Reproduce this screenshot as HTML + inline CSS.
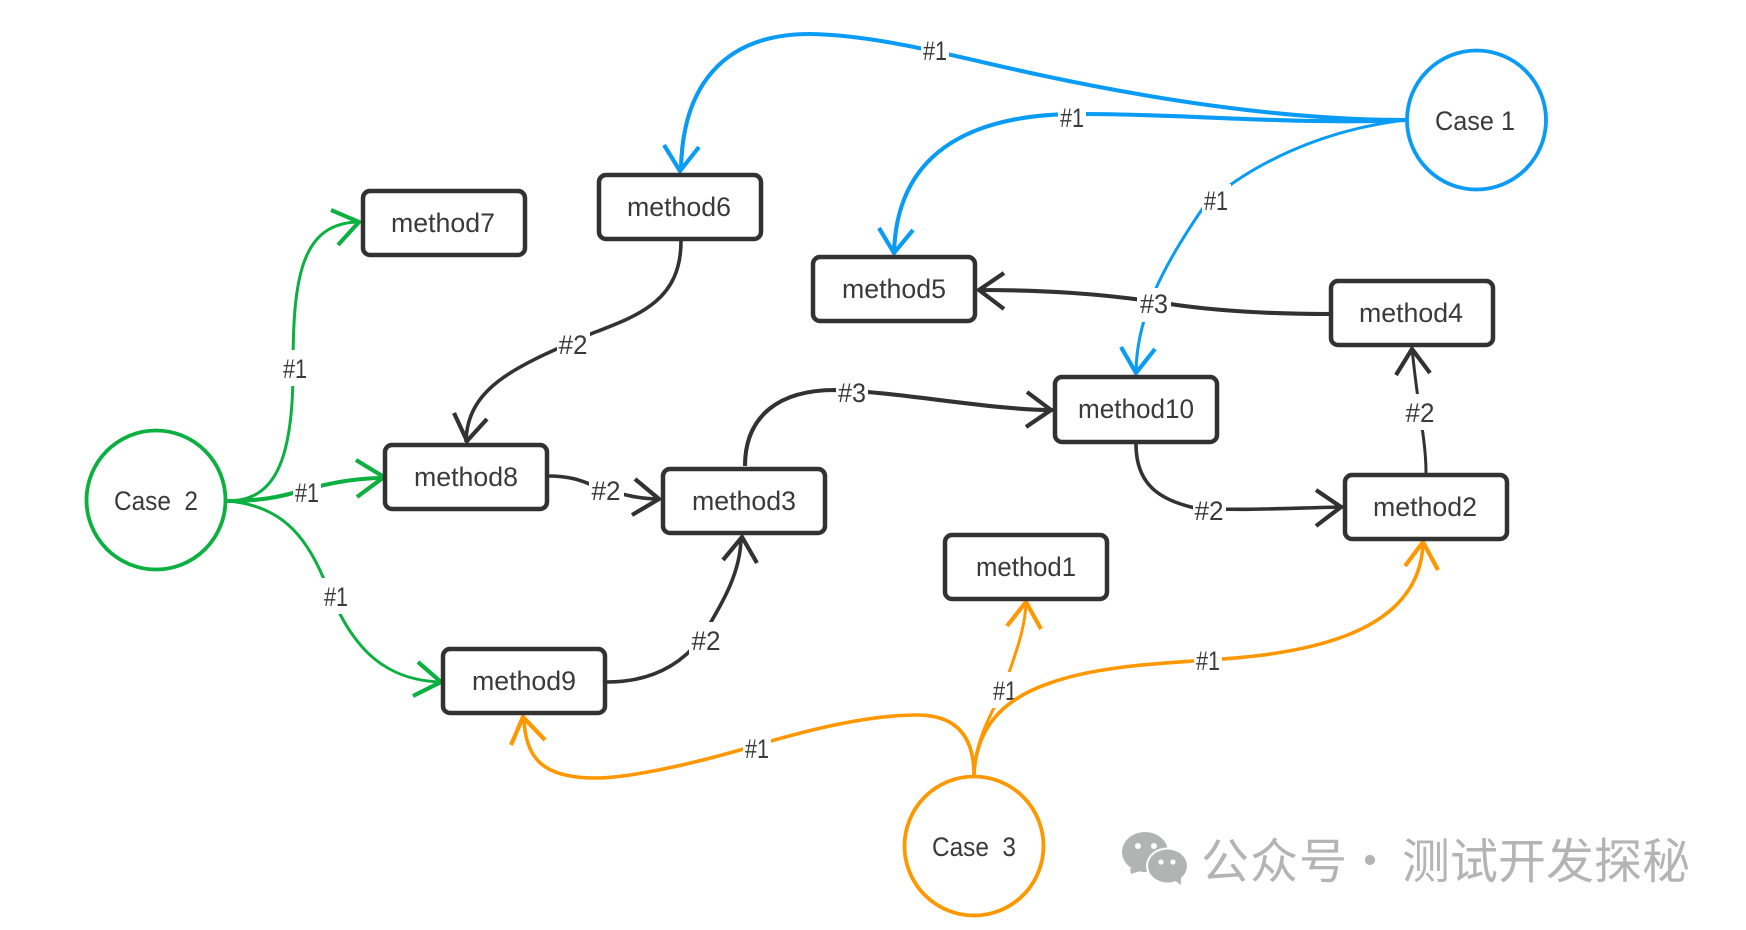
<!DOCTYPE html>
<html>
<head>
<meta charset="utf-8">
<style>
html,body{margin:0;padding:0;background:#fff;width:1746px;height:930px;overflow:hidden}
svg{display:block}
text{font-family:"Liberation Sans","Noto Sans CJK SC",sans-serif;fill:#3a3a3a;text-anchor:middle;font-size:27px}
.box{fill:#fff;stroke:#323232;stroke-width:4.5}
.c{fill:none;stroke-width:3.6;stroke-linecap:butt;stroke-linejoin:miter}
.a{stroke-width:4.2}
.t{stroke-width:3}
.h{stroke-width:4.1}
.b{stroke:#0a9bf5}.g{stroke:#0bb041}.o{stroke:#ff9800}.k{stroke:#323232}
.lb{fill:#fff}
.wm{fill:#b4b4b4;font-size:48px;text-anchor:start;font-family:"Noto Sans CJK SC","WenQuanYi Zen Hei",sans-serif}
</style>
</head>
<body>
<svg width="1746" height="930" viewBox="0 0 1746 930" xmlns="http://www.w3.org/2000/svg">
<rect width="1746" height="930" fill="#fff"/>

<!-- black connectors -->
<path class="c k" d="M681,241 C681,300 640,315 593,333 C520,365 467,385 466,442"/>
<path class="c a k" d="M454,413 L467,441 L487,419"/>
<path class="c h k" d="M745,466 C745,415 780,390 835,390 C900,392 990,410 1053,410"/>
<path class="c a k" d="M1027,392 L1051,410 L1026,427"/>
<path class="c k" d="M548,476 C580,476 590,486 606,490 C625,495 640,499 660,499"/>
<path class="c a k" d="M635,479 L659,499 L632,515"/>
<path class="c k" d="M607,682 C650,682 680,665 700,640 C725,600 741,570 741,537"/>
<path class="c a k" d="M723,560 L742,537 L757,563"/>
<path class="c h k" d="M1330,314 C1260,314 1210,310 1170,304 C1100,293 1040,290 978,290"/>
<path class="c a k" d="M1004,273 L979,290 L1004,309"/>
<path class="c t k" d="M1426,473 C1426,440 1418,410 1412,348"/>
<path class="c a k" d="M1396,375 L1412,349 L1430,373"/>
<path class="c k" d="M1136,444 C1136,485 1160,500 1195,508 C1240,511 1290,508 1343,507"/>
<path class="c a k" d="M1316,490 L1341,507 L1316,526"/>

<!-- blue connectors -->
<path class="c h b" d="M1406,120 C1300,120 1180,105 1040,75 C960,58 880,35 810,34 C720,34 682,90 681,170"/>
<path class="c a b" d="M664,145 L680,171 L699,147"/>
<path class="c h b" d="M1406,120 C1300,125 1180,114 1087,114 C960,112 896,160 894,254"/>
<path class="c a b" d="M879,228 L894,253 L913,230"/>
<path class="c t b" d="M1406,120 C1320,130 1250,165 1205,205 C1160,270 1136,320 1136,374"/>
<path class="c a b" d="M1121,347 L1136,373 L1155,349"/>

<!-- green connectors -->
<path class="c t g" d="M227,501 C270,501 293,470 293,370 C293,280 300,222 360,222"/>
<path class="c a g" d="M331,210 L359,222 L338,245"/>
<path class="c h g" d="M227,501 C260,501 280,497 300,491 C330,483 355,478 384,478"/>
<path class="c a g" d="M356,460 L384,477 L357,497"/>
<path class="c t g" d="M227,501 C280,505 305,535 323,577 C345,630 370,680 441,682"/>
<path class="c a g" d="M418,662 L441,682 L413,696"/>

<!-- orange connectors -->
<path class="c o" d="M974,775 C974,735 955,715 917,715 C860,715 790,735 740,750 C670,770 620,778 595,778 C545,778 525,760 524,718"/>
<path class="c a o" d="M511,745 L523,717 L545,740"/>
<path class="c t o" d="M974,775 C974,745 990,715 1003,690 C1015,655 1025,630 1026,603"/>
<path class="c a o" d="M1007,626 L1026,602 L1041,629"/>

<!-- label for the orange method1 edge sits under the method2 edge -->
<rect class="lb" x="991" y="672" width="28" height="36"/>
<text x="1005" y="700" textLength="24" lengthAdjust="spacingAndGlyphs">#1</text>

<path class="c o" d="M974,775 C976,730 1000,700 1050,683 C1100,665 1170,663 1207,660 C1290,655 1420,640 1423,543"/>
<path class="c a o" d="M1405,566 L1423,542 L1438,570"/>

<!-- edge labels -->
<g>
<rect class="lb" x="921" y="36" width="28" height="30"/><text x="935" y="60" textLength="24" lengthAdjust="spacingAndGlyphs">#1</text>
<rect class="lb" x="1058" y="103" width="28" height="30"/><text x="1072" y="127" textLength="24" lengthAdjust="spacingAndGlyphs">#1</text>
<rect class="lb" x="1202" y="184" width="29" height="32"/><text x="1216" y="210" textLength="24" lengthAdjust="spacingAndGlyphs">#1</text>
<rect class="lb" x="1137" y="288" width="34" height="34"/><text x="1154" y="313" textLength="28" lengthAdjust="spacingAndGlyphs">#3</text>
<rect class="lb" x="1403" y="394" width="34" height="36"/><text x="1420" y="422" textLength="29" lengthAdjust="spacingAndGlyphs">#2</text>
<rect class="lb" x="557" y="330" width="33" height="32"/><text x="573" y="354" textLength="29" lengthAdjust="spacingAndGlyphs">#2</text>
<rect class="lb" x="836" y="378" width="32" height="30"/><text x="852" y="402" textLength="28" lengthAdjust="spacingAndGlyphs">#3</text>
<rect class="lb" x="281" y="350" width="28" height="36"/><text x="295" y="378" textLength="24" lengthAdjust="spacingAndGlyphs">#1</text>
<rect class="lb" x="293" y="478" width="28" height="30"/><text x="307" y="502" textLength="24" lengthAdjust="spacingAndGlyphs">#1</text>
<rect class="lb" x="589" y="474" width="35" height="34"/><text x="606" y="500" textLength="29" lengthAdjust="spacingAndGlyphs">#2</text>
<rect class="lb" x="322" y="578" width="28" height="36"/><text x="336" y="606" textLength="24" lengthAdjust="spacingAndGlyphs">#1</text>
<rect class="lb" x="689" y="622" width="34" height="38"/><text x="706" y="650" textLength="29" lengthAdjust="spacingAndGlyphs">#2</text>
<rect class="lb" x="743" y="733" width="28" height="32"/><text x="757" y="758" textLength="24" lengthAdjust="spacingAndGlyphs">#1</text>
<rect class="lb" x="1193" y="494" width="33" height="34"/><text x="1209" y="520" textLength="29" lengthAdjust="spacingAndGlyphs">#2</text>
<rect class="lb" x="1194" y="645" width="28" height="32"/><text x="1208" y="670" textLength="24" lengthAdjust="spacingAndGlyphs">#1</text>
</g>

<!-- method nodes -->
<g>
<rect class="box" x="363" y="191" width="162" height="64" rx="7"/><text x="443" y="232" textLength="104" lengthAdjust="spacingAndGlyphs">method7</text>
<rect class="box" x="599" y="175" width="162" height="64" rx="7"/><text x="679" y="216" textLength="104" lengthAdjust="spacingAndGlyphs">method6</text>
<rect class="box" x="813" y="257" width="162" height="64" rx="7"/><text x="894" y="298" textLength="104" lengthAdjust="spacingAndGlyphs">method5</text>
<rect class="box" x="1331" y="281" width="162" height="64" rx="7"/><text x="1411" y="322" textLength="104" lengthAdjust="spacingAndGlyphs">method4</text>
<rect class="box" x="1055" y="377" width="162" height="65" rx="7"/><text x="1136" y="418" textLength="116" lengthAdjust="spacingAndGlyphs">method10</text>
<rect class="box" x="1345" y="475" width="162" height="64" rx="7"/><text x="1425" y="516" textLength="104" lengthAdjust="spacingAndGlyphs">method2</text>
<rect class="box" x="945" y="535" width="162" height="64" rx="7"/><text x="1026" y="576" textLength="100" lengthAdjust="spacingAndGlyphs">method1</text>
<rect class="box" x="443" y="649" width="162" height="64" rx="7"/><text x="524" y="690" textLength="104" lengthAdjust="spacingAndGlyphs">method9</text>
<rect class="box" x="663" y="469" width="162" height="64" rx="7"/><text x="744" y="510" textLength="104" lengthAdjust="spacingAndGlyphs">method3</text>
<rect class="box" x="385" y="445" width="162" height="64" rx="7"/><text x="466" y="486" textLength="104" lengthAdjust="spacingAndGlyphs">method8</text>
</g>

<!-- case nodes -->
<circle cx="1476.5" cy="120" r="69.5" fill="#fff" stroke="#0a9bf5" stroke-width="3.8"/>
<text x="1475" y="130" textLength="80" lengthAdjust="spacingAndGlyphs">Case 1</text>
<circle cx="156" cy="500" r="69.5" fill="#fff" stroke="#0bb041" stroke-width="3.8"/>
<text x="156" y="510" textLength="84" lengthAdjust="spacingAndGlyphs" xml:space="preserve">Case  2</text>
<circle cx="974" cy="846" r="69.5" fill="#fff" stroke="#ff9800" stroke-width="3.8"/>
<text x="974" y="856" textLength="84" lengthAdjust="spacingAndGlyphs" xml:space="preserve">Case  3</text>

<!-- watermark -->
<g fill="#b2b4b3">
<ellipse cx="1145" cy="852" rx="23" ry="20"/>
<path d="M1130,868 L1131,874 L1140,871 Z"/>
<ellipse cx="1167.5" cy="866" rx="21.5" ry="18.5" fill="#fff"/>
<ellipse cx="1167.5" cy="866" rx="19.5" ry="16.5"/>
<path d="M1174,880 L1181,885 L1181,876 Z"/>
</g>
<g fill="#fff">
<circle cx="1138" cy="846" r="3"/><circle cx="1154" cy="846" r="3"/>
<circle cx="1161" cy="862" r="2.6"/><circle cx="1173" cy="862" r="2.6"/>
</g>
<text class="wm" x="1201" y="878" textLength="146" lengthAdjust="spacing">公众号</text>
<text class="wm" x="1346" y="878">·</text>
<text class="wm" x="1402" y="878" textLength="288" lengthAdjust="spacing">测试开发探秘</text>
</svg>
</body>
</html>
